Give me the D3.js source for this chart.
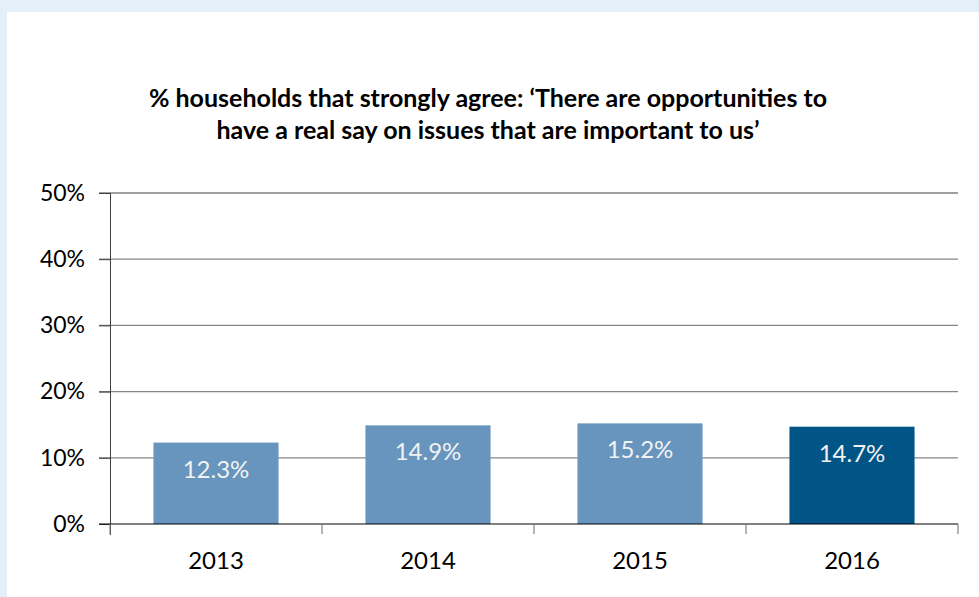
<!DOCTYPE html>
<html><head><meta charset="utf-8">
<script src="https://cdn.jsdelivr.net/npm/d3@7"></script>
<style>body{margin:0;background:#e3f0fa;} svg{display:block;}</style>
</head><body>
<script>
const categories = ["2013", "2014", "2015", "2016"];
const values = [12.3, 14.9, 15.2, 14.7];
const labels = ["12.3%", "14.9%", "15.2%", "14.7%"];
const yTicks = [0, 10, 20, 30, 40, 50];
const barColors = ["#6795bd", "#6795bd", "#6795bd", "#005486"];
const titleLines = ["% households that strongly agree: \u2018There are opportunities to", "have a real say on issues that are important to us\u2019"];

const W = 979, H = 597;
const svg = d3.select("body").append("svg").attr("width", W).attr("height", H);
svg.append("rect").attr("width", W).attr("height", H).attr("fill", "#e3f0fa");
svg.append("rect").attr("x", 7).attr("y", 12).attr("width", W - 7).attr("height", H - 12).attr("fill", "#fff");

const font = "Lato, 'Open Sans', sans-serif";
const x = d3.scaleBand().domain(categories).range([110, 958]).paddingInner(0.41).paddingOuter(0.205);
const y = d3.scaleLinear().domain([0, 50]).range([524, 193]);

// gridlines
svg.append("g").selectAll("line").data(yTicks.filter(d => d > 0)).join("line")
  .attr("x1", 99).attr("x2", 958).attr("y1", d => y(d)).attr("y2", d => y(d))
  .attr("stroke", d => d === 50 ? "#404040" : "#868686").attr("stroke-width", 1.2);

// bars
svg.append("g").selectAll("rect").data(values).join("rect")
  .attr("x", (d, i) => x(categories[i])).attr("width", x.bandwidth())
  .attr("y", d => y(d)).attr("height", d => y(0) - y(d))
  .attr("fill", (d, i) => barColors[i]);

// bar labels
svg.append("g").selectAll("text").data(values).join("text")
  .attr("x", (d, i) => x(categories[i]) + x.bandwidth() / 2)
  .attr("y", d => y(d) + 35)
  .attr("text-anchor", "middle").attr("fill", "#f2f2f2")
  .style("font-family", font).style("font-size", "24px")
  .text((d, i) => labels[i]);

// y axis
const yAxis = svg.append("g").attr("transform", "translate(110,0)")
  .call(d3.axisLeft(y).tickValues(yTicks).tickFormat(d => d + "%").tickSize(11).tickPadding(14));
yAxis.select(".domain").attr("stroke", "#404040").attr("d", "M0.5,193V535");
yAxis.selectAll(".tick line").attr("stroke", "#404040");
yAxis.selectAll("text").style("font-family", font).style("font-size", "23px").attr("fill", "#000");

// x axis
const xAxis = svg.append("g").attr("transform", "translate(0,524)");
xAxis.append("line").attr("x1", 99).attr("x2", 958).attr("y1", 0).attr("y2", 0).attr("stroke", "#000").attr("stroke-width", 1.2);
const bounds = categories.map(c => x(c) - x.step() * x.paddingInner() / 2).concat([958]);
xAxis.selectAll("line.tk").data(bounds).join("line").attr("class", "tk")
  .attr("x1", d => d).attr("x2", d => d).attr("y1", 0).attr("y2", 10).attr("stroke", "#808080").attr("stroke-width", 1.2);
xAxis.selectAll("text").data(categories).join("text")
  .attr("x", d => x(d) + x.bandwidth() / 2).attr("y", 45)
  .attr("text-anchor", "middle").attr("fill", "#000")
  .style("font-family", font).style("font-size", "24px").text(d => d);

// title
svg.append("g").selectAll("text").data(titleLines).join("text")
  .attr("x", 488).attr("y", (d, i) => 107 + i * 32)
  .attr("text-anchor", "middle").attr("fill", "#000")
  .style("font-family", font).style("font-weight", "bold").style("font-size", "25px")
  .text(d => d);
</script>
</body></html>
